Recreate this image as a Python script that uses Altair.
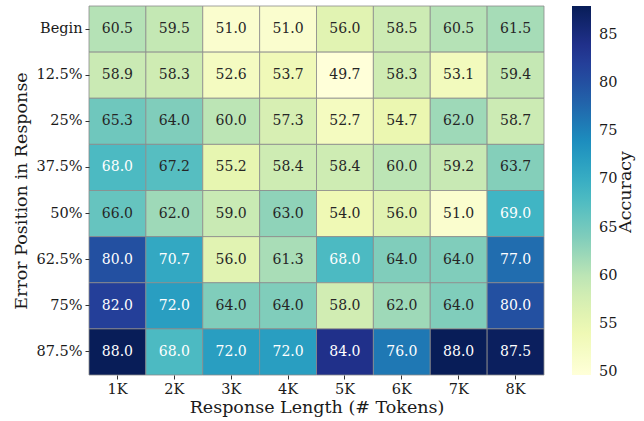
import altair as alt
import pandas as pd

# Error position (rows) x response length (columns) accuracy grid
positions = ["Begin", "12.5%", "25%", "37.5%", "50%", "62.5%", "75%", "87.5%"]
lengths = ["1K", "2K", "3K", "4K", "5K", "6K", "7K", "8K"]
accuracy = [
    [60.5, 59.5, 51.0, 51.0, 56.0, 58.5, 60.5, 61.5],
    [58.9, 58.3, 52.6, 53.7, 49.7, 58.3, 53.1, 59.4],
    [65.3, 64.0, 60.0, 57.3, 52.7, 54.7, 62.0, 58.7],
    [68.0, 67.2, 55.2, 58.4, 58.4, 60.0, 59.2, 63.7],
    [66.0, 62.0, 59.0, 63.0, 54.0, 56.0, 51.0, 69.0],
    [80.0, 70.7, 56.0, 61.3, 68.0, 64.0, 64.0, 77.0],
    [82.0, 72.0, 64.0, 64.0, 58.0, 62.0, 64.0, 80.0],
    [88.0, 68.0, 72.0, 72.0, 84.0, 76.0, 88.0, 87.5],
]
colorbar_ticks = [50, 55, 60, 65, 70, 75, 80, 85]

# ColorBrewer YlGnBu stops
ylgnbu = ["#ffffd9", "#edf8b1", "#c7e9b4", "#7fcdbb", "#41b6c4",
          "#1d91c0", "#225ea8", "#253494", "#081d58"]

rows = []
for p, vals in zip(positions, accuracy):
    for l, v in zip(lengths, vals):
        rows.append({"position": p, "length": l, "value": v, "label": f"{v:.1f}"})
df = pd.DataFrame(rows)

vmin = min(min(r) for r in accuracy)
vmax = max(max(r) for r in accuracy)
n = len(ylgnbu) - 1
stops = [vmin + (vmax - vmin) * i / n for i in range(n + 1)]

FONT = "DejaVu Serif"
INK = "#1a1a1a"

x = alt.X("length:N", sort=lengths, title="Response Length (# Tokens)",
          axis=alt.Axis(labelAngle=0, labelFontSize=14.5, titleFontSize=17.5,
                        labelFont=FONT, titleFont=FONT, domain=False,
                        tickSize=4, tickColor="#333", labelColor=INK,
                        titleColor=INK, titlePadding=3, labelPadding=3,
                        titleFontWeight="normal"))
y = alt.Y("position:N", sort=positions, title="Error Position in Response",
          axis=alt.Axis(labelFontSize=14.5, titleFontSize=17.5, labelFont=FONT,
                        titleFont=FONT, domain=False, tickSize=4,
                        tickColor="#333", labelColor=INK, titleColor=INK,
                        titlePadding=5, labelPadding=3, titleFontWeight="normal"))

base = alt.Chart(df).encode(x=x, y=y)

cells = base.mark_rect(stroke="#8c8c8c", strokeWidth=0.8).encode(
    color=alt.Color(
        "value:Q",
        scale=alt.Scale(domain=stops, range=ylgnbu, interpolate="rgb"),
        legend=alt.Legend(
            title=None, orient="none", legendX=483, legendY=0,
            direction="vertical", gradientLength=369, gradientThickness=19,
            values=colorbar_ticks,
            labelFont=FONT, labelFontSize=14.5, labelColor=INK,
            labelOffset=8, gradientStrokeWidth=0,
        ),
    )
)

labels = base.mark_text(font=FONT, fontSize=14).encode(
    text="label:N",
    color=alt.condition("datum.value > 67.5", alt.value("white"), alt.value("#262626")),
)

# Colorbar title, rotated to read bottom-to-top
cbar_title = alt.Chart(pd.DataFrame({"t": ["Accuracy"]})).mark_text(
    font=FONT, fontSize=17.5, angle=270, color=INK, baseline="middle", align="center"
).encode(text="t:N", x=alt.value(537), y=alt.value(186))

chart = (
    (cells + labels + cbar_title)
    .properties(width=455, height=369,
                autosize=alt.AutoSizeParams(type="none"),
                padding={"left": 89, "top": 6, "right": 100, "bottom": 46})
    .configure_view(stroke=None)
    .configure_scale(bandPaddingInner=0, bandPaddingOuter=0)
)

chart.save("out.html", embed_options={"renderer": "svg", "actions": False})
